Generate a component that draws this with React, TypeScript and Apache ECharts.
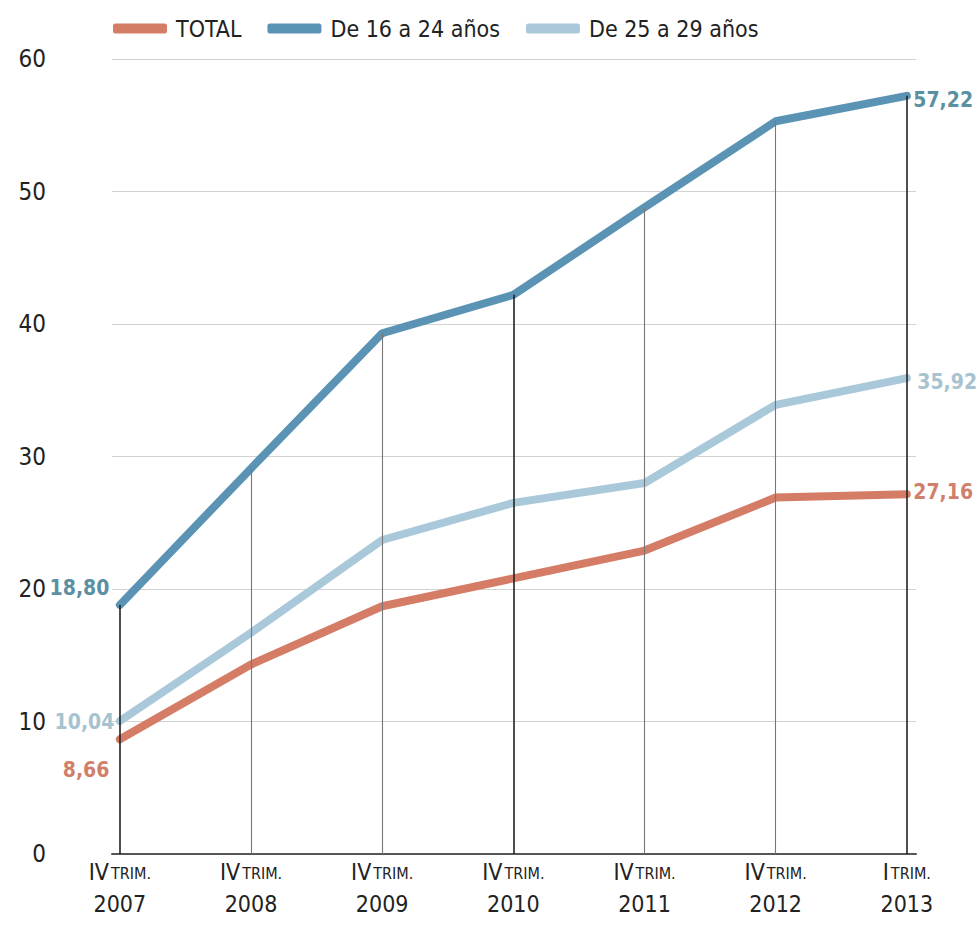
import React, { useEffect, useRef } from "react";
import * as echarts from "echarts";

const quarters = ["IV", "IV", "IV", "IV", "IV", "IV", "I"];
const years = ["2007", "2008", "2009", "2010", "2011", "2012", "2013"];
const seriesNames = ["TOTAL", "De 16 a 24 años", "De 25 a 29 años"];
const totalValues = [8.66, 14.3, 18.7, 20.8, 22.9, 26.9, 27.16];
const youngValues = [18.8, 29.1, 39.3, 42.2, 48.8, 55.3, 57.22];
const midValues = [10.04, 16.7, 23.7, 26.5, 28.0, 33.9, 35.92];
const yTicks = [0, 10, 20, 30, 40, 50, 60];

const FONT = "'Liberation Sans Narrow', 'DejaVu Sans Condensed', 'Roboto Condensed', sans-serif";
const C_TOTAL = "#d47c66";
const C_YOUNG = "#5b93b4";
const C_MID = "#a9c9db";

const fmt = (v: number) => v.toFixed(2).replace(".", ",");

function buildData(
  values: number[],
  color: string,
  first: { pos: string; offset: number[] },
  last: { pos: string; offset: number[] }
) {
  return values.map((v, i) => {
    const item: any = { value: [i, v], symbolSize: 1 };
    if (i === 0 || i === values.length - 1) {
      const c = i === 0 ? first : last;
      item.label = {
        show: true,
        position: c.pos,
        offset: c.offset,
        distance: 6,
        formatter: fmt(v),
        color,
        fontFamily: FONT,
        fontSize: 21,
        fontWeight: "bold",
      };
    } else {
      item.label = { show: false };
    }
    return item;
  });
}

export default function App() {
  const ref = useRef<HTMLDivElement>(null);
  useEffect(() => {
    document.body.style.margin = "0";
    const chart = echarts.init(ref.current!, null, { renderer: "svg" });
    const lineBase = {
      type: "line",
      showSymbol: true,
      symbol: "circle",
      symbolSize: 1,
      lineStyle: { width: 8, cap: "round", join: "round" },
      emphasis: { disabled: true },
    };
    chart.setOption({
      animation: false,
      backgroundColor: "#ffffff",
      legend: {
        data: seriesNames,
        left: 108,
        top: 12,
        icon: "roundRect",
        itemWidth: 54,
        itemHeight: 10,
        itemGap: 26,
        textStyle: { fontFamily: FONT, fontSize: 23, color: "#222", padding: [0, 0, 0, 4] },
      },
      grid: {
        left: 112,
        right: 62,
        top: 59,
        bottom: 77,
        containLabel: false,
        outerBoundsMode: "none",
      },
      xAxis: {
        type: "value",
        min: -0.06,
        max: 6.07,
        splitLine: { show: false },
        axisTick: { show: false },
        axisLine: { show: true, onZero: false, lineStyle: { color: "#555", width: 2 } },
        axisLabel: {
          customValues: years.map((_, i) => i),
          margin: 2,
          formatter: (v: number) => {
            const i = Math.round(v);
            return `{q|${quarters[i]}}{s|TRIM.}\n{y|${years[i]}}`;
          },
          rich: {
            q: { fontFamily: FONT, fontSize: 23, color: "#222", lineHeight: 32 },
            s: { fontFamily: FONT, fontSize: 16, color: "#222", lineHeight: 32, padding: [3, 0, 0, 2] },
            y: { fontFamily: FONT, fontSize: 23, color: "#222", lineHeight: 32 },
          },
        },
      },
      yAxis: {
        type: "value",
        min: yTicks[0],
        max: yTicks[yTicks.length - 1],
        interval: 10,
        axisLine: { show: false },
        axisTick: { show: false },
        splitLine: { show: true, lineStyle: { color: "#d2d2d2", width: 1 } },
        axisLabel: {
          margin: 66,
          fontFamily: FONT,
          fontSize: 24,
          color: "#222",
          align: "right",
          padding: [0, 0, 8, 0],
        },
      },
      series: [
        {
          type: "line",
          name: "drops",
          data: youngValues.map((v, i) => [i, v]),
          showSymbol: false,
          symbol: "none",
          lineStyle: { width: 0, opacity: 0 },
          silent: true,
          z: 1,
          markLine: {
            silent: true,
            symbol: ["none", "none"],
            label: { show: false },
            animation: false,
            data: youngValues.map((v, i) => {
              const strong = i === 0 || i === 3 || i === youngValues.length - 1;
              return [
                {
                  coord: [i, 0],
                  lineStyle: { color: strong ? "#222" : "#777", width: strong ? 1.6 : 1.1, type: "solid" },
                },
                { coord: [i, v] },
              ];
            }),
          },
        },
        {
          ...lineBase,
          name: seriesNames[0],
          color: C_TOTAL,
          z: 3,
          data: buildData(totalValues, "#d07f6c", { pos: "left", offset: [-4, 31] }, { pos: "right", offset: [0, -2] }),
        },
        {
          ...lineBase,
          name: seriesNames[1],
          color: C_YOUNG,
          z: 4,
          data: buildData(youngValues, "#5b8fa2", { pos: "left", offset: [-4, -17] }, { pos: "right", offset: [0, 4] }),
        },
        {
          ...lineBase,
          name: seriesNames[2],
          color: C_MID,
          z: 3,
          data: buildData(midValues, "#a6c3cf", { pos: "left", offset: [1, 1] }, { pos: "right", offset: [4, 4] }),
        },
      ],
    });
    return () => chart.dispose();
  }, []);
  return <div ref={ref} style={{ width: 978, height: 931 }} />;
}
